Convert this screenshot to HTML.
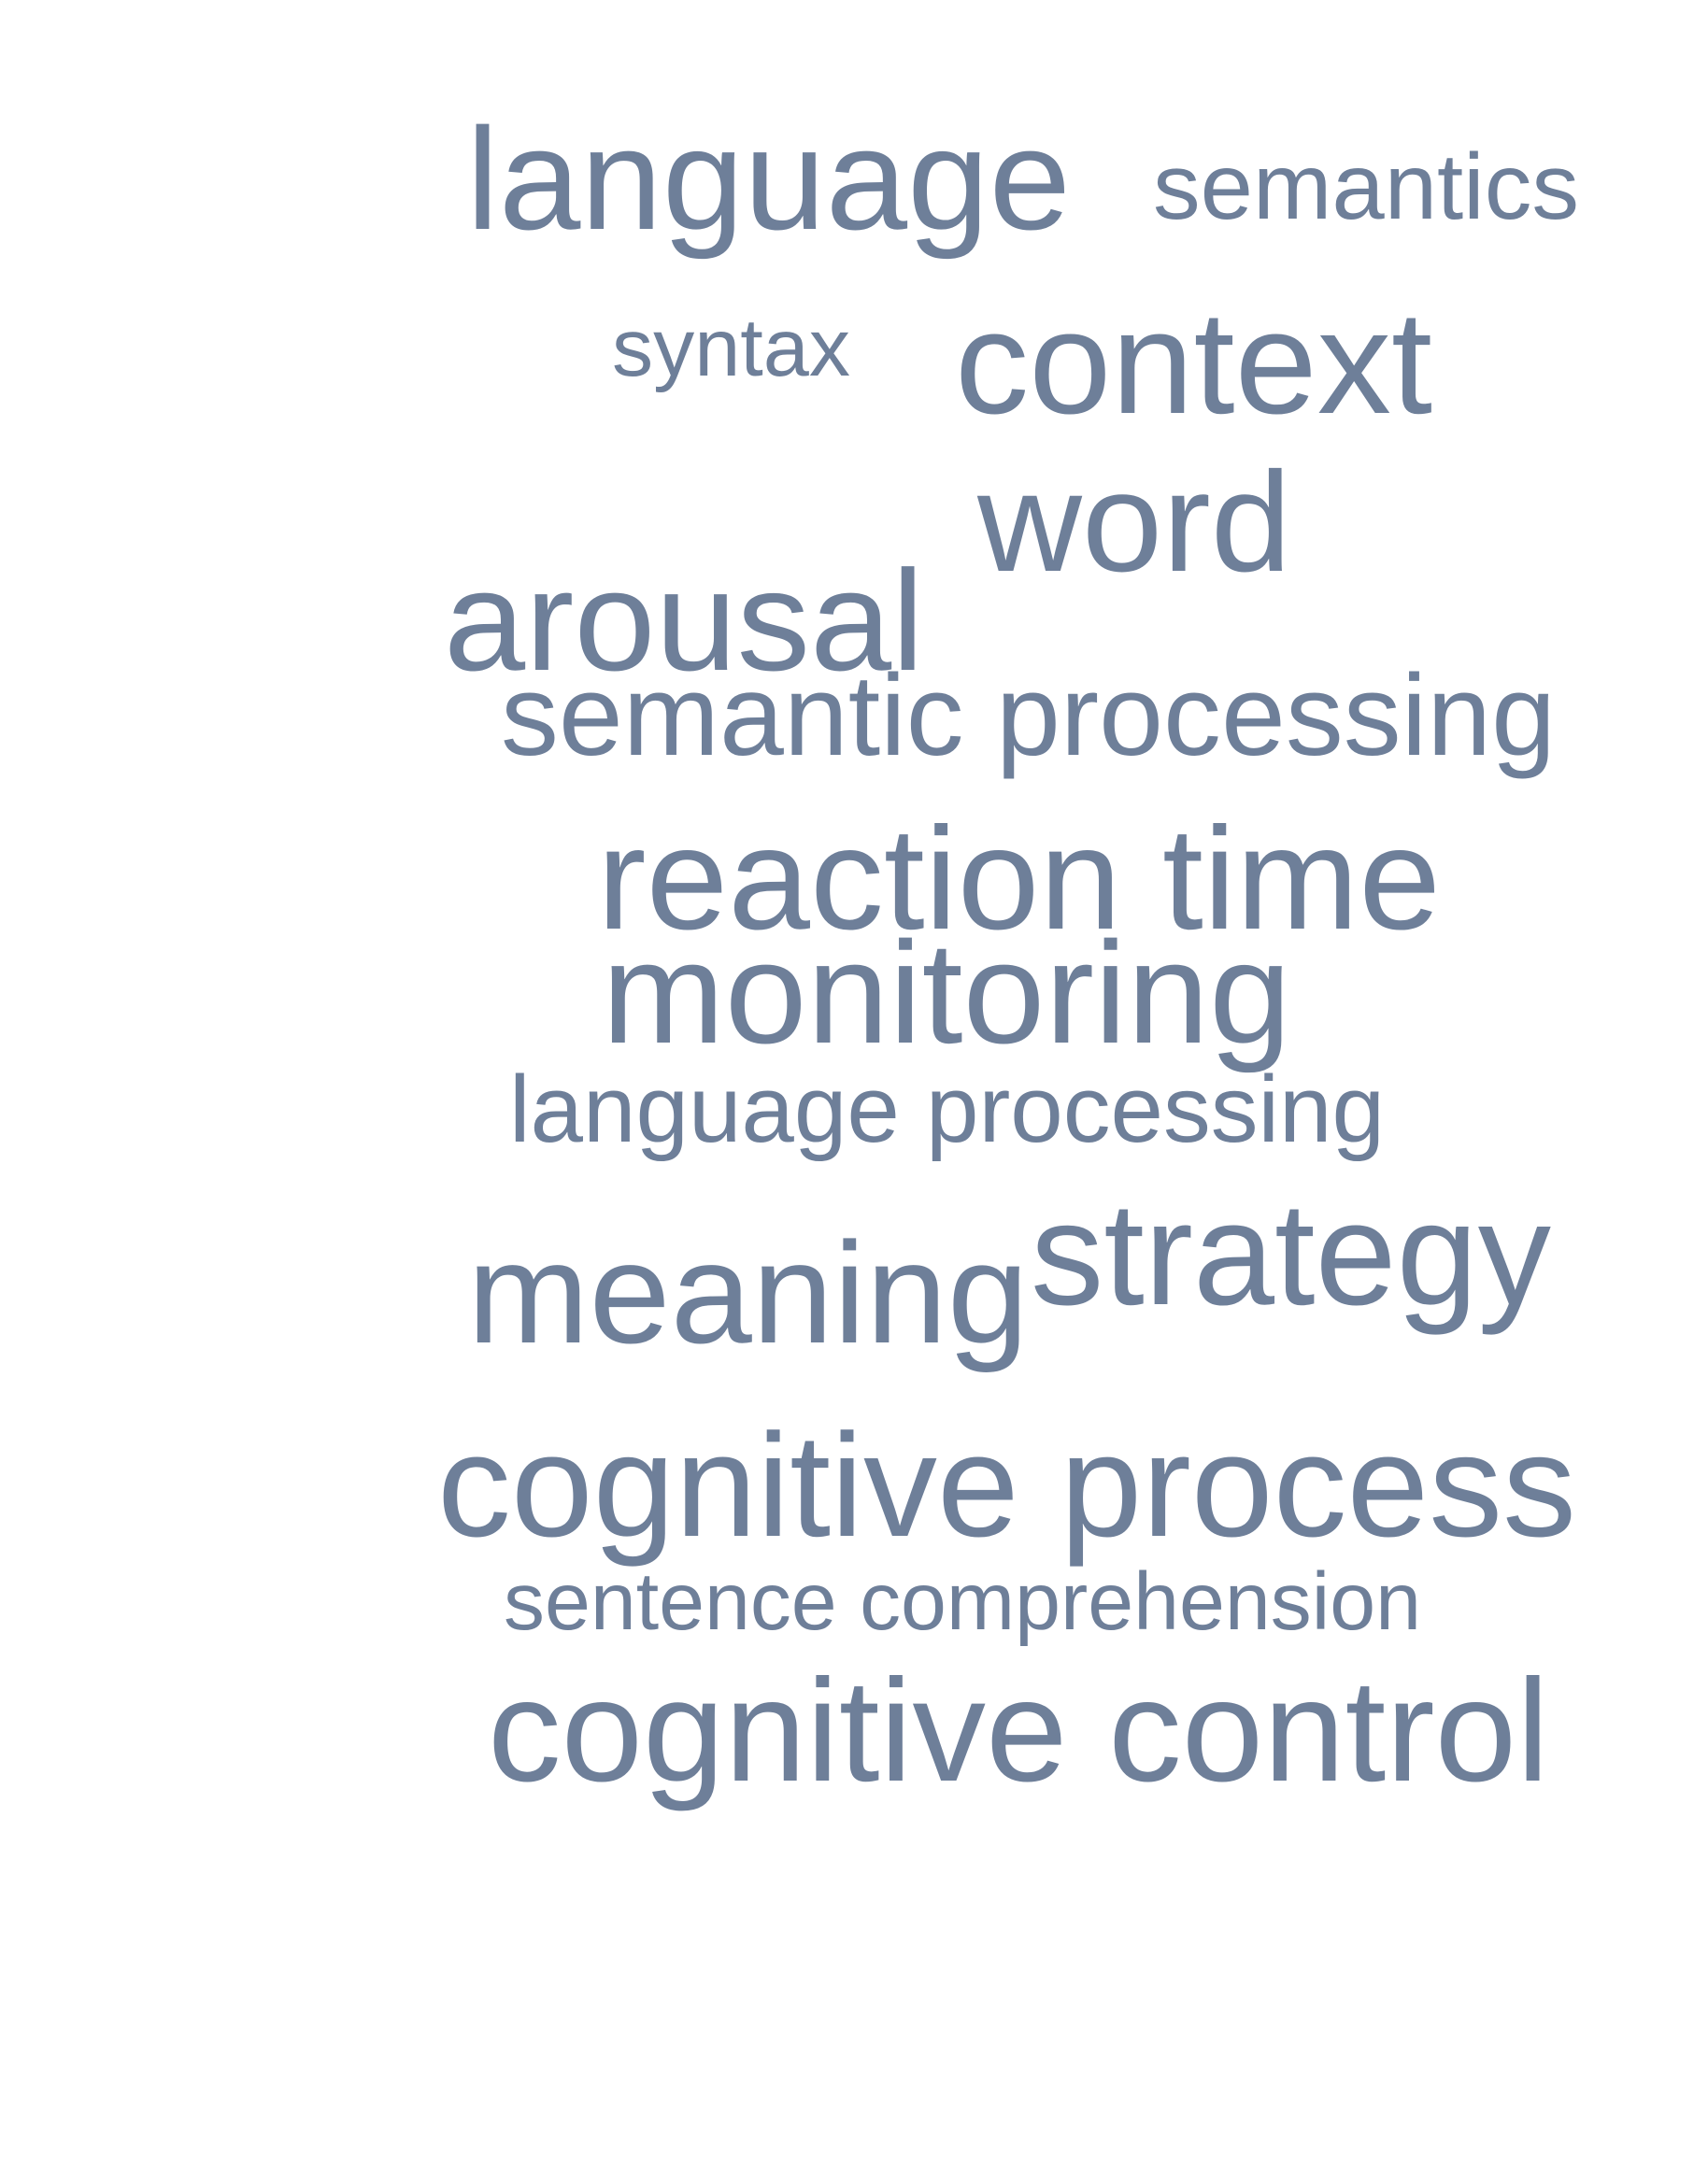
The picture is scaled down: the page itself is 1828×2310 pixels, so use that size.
<!DOCTYPE html>
<html><head><meta charset="utf-8"><style>html,body{margin:0;padding:0;background:#fff}svg{display:block}</style></head>
<body>
<svg width="1828" height="2310" xmlns="http://www.w3.org/2000/svg" font-family="Liberation Sans, Arial, sans-serif" fill="#6e7f99">
<rect width="1828" height="2310" fill="#fff"/>
<text x="499" y="245" font-size="155" textLength="647" lengthAdjust="spacingAndGlyphs">language</text>
<text x="1234" y="234" font-size="100" textLength="456" lengthAdjust="spacingAndGlyphs">semantics</text>
<text x="655" y="402" font-size="87" textLength="255" lengthAdjust="spacingAndGlyphs">syntax</text>
<text x="1022" y="442" font-size="157" textLength="511" lengthAdjust="spacingAndGlyphs">context</text>
<text x="1046" y="611" font-size="152" textLength="336" lengthAdjust="spacingAndGlyphs">word</text>
<text x="475" y="717" font-size="153" textLength="514" lengthAdjust="spacingAndGlyphs">arousal</text>
<text x="536" y="808" font-size="123" textLength="1129" lengthAdjust="spacingAndGlyphs">semantic processing</text>
<text x="639" y="994" font-size="156" textLength="903" lengthAdjust="spacingAndGlyphs">reaction time</text>
<text x="644" y="1116" font-size="155" textLength="738" lengthAdjust="spacingAndGlyphs">monitoring</text>
<text x="545" y="1222" font-size="101" textLength="937" lengthAdjust="spacingAndGlyphs">language processing</text>
<text x="500" y="1437" font-size="154" textLength="601" lengthAdjust="spacingAndGlyphs">meaning</text>
<text x="1103" y="1396" font-size="157" textLength="557" lengthAdjust="spacingAndGlyphs">strategy</text>
<text x="468" y="1644" font-size="157" textLength="1219" lengthAdjust="spacingAndGlyphs">cognitive process</text>
<text x="539" y="1744" font-size="87" textLength="982" lengthAdjust="spacingAndGlyphs">sentence comprehension</text>
<text x="522" y="1906" font-size="156" textLength="1136" lengthAdjust="spacingAndGlyphs">cognitive control</text>
</svg>
</body></html>
